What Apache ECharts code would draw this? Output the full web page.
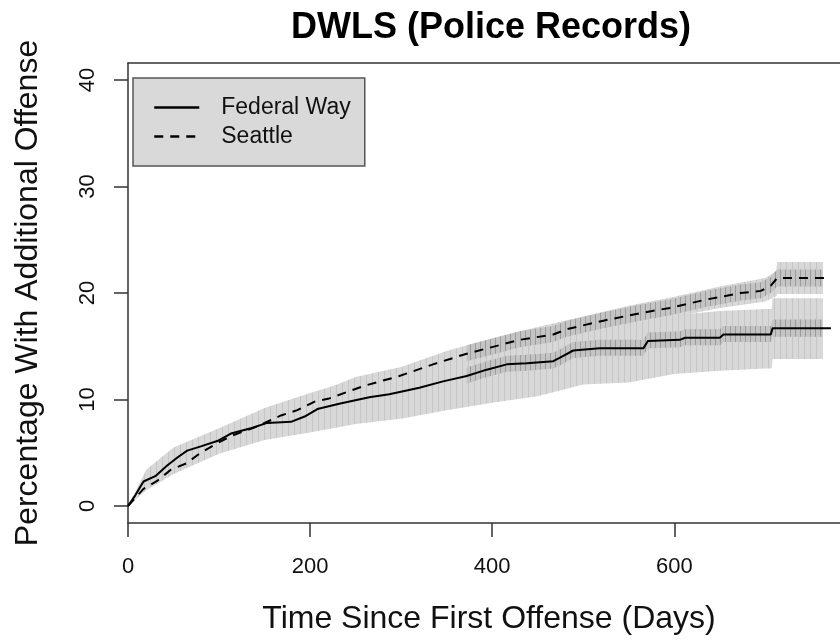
<!DOCTYPE html>
<html><head><meta charset="utf-8">
<script src="https://cdn.jsdelivr.net/npm/echarts@6/dist/echarts.min.js"></script>
<style>html,body{margin:0;padding:0;background:#fff}#c{width:840px;height:641px}</style>
</head><body><div id="c"></div>
<script>
// Federal Way cumulative percentage (days, %)
const fwLine = [[0,0],[8,1.0],[17,2.3],[30,2.8],[43,3.8],[55,4.6],[65,5.2],[80,5.6],[98,6.1],[113,6.8],[135,7.3],[153,7.8],[179,7.9],[194,8.4],[208,9.1],[232,9.6],[265,10.2],[287,10.5],[320,11.1],[346,11.7],[372,12.2],[394,12.8],[416,13.3],[438,13.4],[467,13.6],[474,13.9],[489,14.6],[518,14.8],[566,14.8],[571,15.5],[606,15.6],[612,15.8],[650,15.8],[654,16.1],[706,16.1],[708,16.7],[772,16.7]];
// Seattle cumulative percentage (days, %)
const seLine = [[0,0],[17,1.6],[32,2.35],[47,3.4],[64,4.0],[80,5.0],[98,5.9],[114,6.6],[140,7.4],[168,8.5],[186,9.0],[205,9.8],[221,10.1],[260,11.3],[298,12.2],[335,13.3],[372,14.3],[408,15.1],[430,15.6],[467,16.1],[482,16.6],[522,17.4],[562,18.1],[595,18.6],[636,19.4],[673,20.0],[695,20.2],[706,20.7],[713,21.4],[772,21.4]];
// confidence bands
const fwBandDays = [0,20,50,100,150,200,250,300,350,400,450,500,550,600,650,700,707,708,763];
const fwLower = [0,1.5,3.0,4.9,6.2,6.9,7.7,8.2,9.0,9.7,10.3,11.4,11.6,12.4,12.7,12.9,12.9,13.8,13.8];
const fwUpper = [0,3.4,5.5,7.3,9.2,10.6,11.9,12.9,14.0,15.3,16.1,17.1,17.3,17.9,18.3,18.5,18.5,19.5,19.5];
const seBandDays = [0,20,50,100,150,200,250,300,350,400,450,500,550,600,650,700,712,713,763];
const seLower = [0,1.5,3.0,5.3,7.05,8.8,10.5,11.35,12.85,14.05,15.0,16.0,17.0,17.75,18.6,19.2,19.7,19.9,19.9];
const seUpper = [0,2.3,4.2,6.7,8.55,10.4,12.1,13.05,14.55,15.75,16.8,17.8,18.8,19.65,20.6,21.4,22.1,22.9,22.9];
// darker inner bands (overlapping interval segments) in the later period
const fwInnerDays = [372,394,416,438,467,474,489,518,566,571,606,612,650,654,706,708,763];
const fwInnerLo = [11.5,12.1,12.6,12.7,12.9,13.2,13.9,14.1,14.1,14.8,14.9,15.1,15.1,15.4,15.4,15.9,15.9];
const fwInnerUp = [13.0,13.6,14.1,14.2,14.4,14.7,15.4,15.6,15.6,16.3,16.4,16.6,16.6,16.9,16.9,17.5,17.5];
const seInnerDays = [372,408,430,467,482,522,562,595,636,673,695,706,713,763];
const seInnerLo = [13.6,14.4,14.9,15.4,15.9,16.7,17.4,17.9,18.7,19.3,19.5,20.0,20.6,20.6];
const seInnerUp = [15.1,15.9,16.4,16.9,17.4,18.2,18.9,19.4,20.2,20.8,21.0,21.5,22.2,22.2];
const xTicks = [0,200,400,600];
const yTicks = [0,10,20,30,40];

const FONT = '"Liberation Sans", Arial, Helvetica, sans-serif';

function stripes(w, base, line) {
  const c = document.createElement('canvas');
  c.width = w; c.height = 4;
  const g = c.getContext('2d');
  g.fillStyle = base; g.fillRect(0, 0, w, 4);
  g.fillStyle = line; g.fillRect(0, 0, 1, 4);
  return { image: c, repeat: 'repeat' };
}
const outerFill = stripes(6, '#d8d8d8', '#c6c6c6');
const innerFill = stripes(5, '#c4c4c4', '#9c9c9c');

function bandSeries(days, lo, up, fill, z) {
  return {
    type:'custom', silent:true, z:z, data:[[days[0], lo[0]]],
    renderItem:(params, api) => {
      const pts = [];
      for (let i = 0; i < days.length; i++) pts.push(api.coord([days[i], up[i]]));
      for (let i = days.length - 1; i >= 0; i--) pts.push(api.coord([days[i], lo[i]]));
      return { type:'polygon', shape:{points:pts}, style:{fill:fill, stroke:null} };
    }
  };
}

const axisLineStyle = {color:'#333', width:1.5};
const chart = echarts.init(document.getElementById('c'), null, {renderer:'canvas'});
chart.setOption({
  animation:false,
  textStyle:{fontFamily:FONT},
  graphic:[{
    type:'text', x:491, y:28,
    style:{text:'DWLS (Police Records)', font:'bold 36px '+FONT, fill:'#000', textAlign:'center', textVerticalAlign:'middle'}
  }],
  legend:{
    data:['Federal Way','Seattle'],
    orient:'vertical', left:133, top:78,
    padding:[18,14,18,20],
    itemWidth:45, itemHeight:14, itemGap:6,
    itemStyle:{opacity:0},
    lineStyle:{width:2.5},
    backgroundColor:'#d9d9d9', borderColor:'#555', borderWidth:1.5, borderRadius:0,
    textStyle:{fontSize:23, lineHeight:23, color:'#111', fontFamily:FONT, padding:[0,0,0,17]},
    selectedMode:false
  },
  grid:{left:128, right:0, top:63, bottom:118, show:false},
  xAxis:[{
    type:'value', min:0, max:782, interval:200,
    name:'Time Since First Offense (Days)', nameLocation:'middle', nameGap:80,
    nameTextStyle:{fontSize:32, color:'#111', fontFamily:FONT, padding:[0,0,0,10]},
    axisLine:{show:true, onZero:false, lineStyle:axisLineStyle},
    axisTick:{show:true, length:14, lineStyle:axisLineStyle, customValues:xTicks},
    axisLabel:{fontSize:22, color:'#111', margin:33, fontFamily:FONT, customValues:xTicks},
    splitLine:{show:false}
  },{
    type:'value', position:'top', min:0, max:782,
    axisLine:{show:true, onZero:false, lineStyle:axisLineStyle},
    axisTick:{show:false}, axisLabel:{show:false}, splitLine:{show:false}
  }],
  yAxis:{
    type:'value', min:-1.6, max:41.6,
    name:'Percentage With Additional Offense', nameLocation:'middle', nameGap:84, nameRotate:90,
    nameTextStyle:{fontSize:32, color:'#111', fontFamily:FONT},
    axisLine:{show:true, onZero:false, lineStyle:axisLineStyle},
    axisTick:{show:true, length:14, lineStyle:axisLineStyle, customValues:yTicks},
    axisLabel:{fontSize:22, color:'#111', margin:29, rotate:90, fontFamily:FONT, customValues:yTicks},
    splitLine:{show:false}
  },
  series:[
    bandSeries(fwBandDays, fwLower, fwUpper, outerFill, 1),
    bandSeries(seBandDays, seLower, seUpper, outerFill, 1),
    bandSeries(fwInnerDays, fwInnerLo, fwInnerUp, innerFill, 2),
    bandSeries(seInnerDays, seInnerLo, seInnerUp, innerFill, 2),
    { type:'line', name:'Federal Way', data:fwLine, symbol:'none', showSymbol:false,
      lineStyle:{color:'#000', width:2, type:'solid'}, itemStyle:{color:'#000'}, z:5 },
    { type:'line', name:'Seattle', data:seLine, symbol:'none', showSymbol:false,
      lineStyle:{color:'#000', width:2, type:[9,7]}, itemStyle:{color:'#000'}, z:5 }
  ]
});
</script>
</body></html>
